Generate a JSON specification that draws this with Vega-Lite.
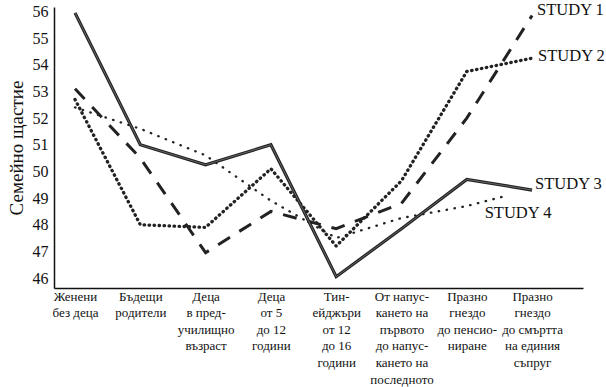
{
  "$schema": "https://vega.github.io/schema/vega-lite/v6.json",
  "width": 529,
  "height": 281,
  "autosize": "none",
  "padding": {"left": 54, "top": 7, "right": 23, "bottom": 99},
  "background": "white",
  "config": {
    "view": {"stroke": null},
    "font": "Liberation Serif",
    "axis": {
      "domainColor": "#111",
      "domainWidth": 1.5,
      "ticks": false,
      "grid": false,
      "labelColor": "#111",
      "labelFont": "Liberation Serif",
      "titleFont": "Liberation Serif",
      "titleColor": "#111",
      "titleFontWeight": "normal"
    }
  },
  "data": {
    "values": [
      {"study": "Study 1", "stage": 1, "value": 53.1},
      {"study": "Study 1", "stage": 2, "value": 50.5},
      {"study": "Study 1", "stage": 3, "value": 46.95},
      {"study": "Study 1", "stage": 4, "value": 48.5},
      {"study": "Study 1", "stage": 5, "value": 47.85},
      {"study": "Study 1", "stage": 6, "value": 48.8},
      {"study": "Study 1", "stage": 7, "value": 52.0},
      {"study": "Study 1", "stage": 8, "value": 55.85},
      {"study": "Study 2", "stage": 1, "value": 52.7},
      {"study": "Study 2", "stage": 2, "value": 48.0},
      {"study": "Study 2", "stage": 3, "value": 47.9},
      {"study": "Study 2", "stage": 4, "value": 50.1},
      {"study": "Study 2", "stage": 5, "value": 47.2},
      {"study": "Study 2", "stage": 6, "value": 49.65},
      {"study": "Study 2", "stage": 7, "value": 53.75},
      {"study": "Study 2", "stage": 8, "value": 54.25},
      {"study": "Study 3", "stage": 1, "value": 55.95},
      {"study": "Study 3", "stage": 2, "value": 51.0},
      {"study": "Study 3", "stage": 3, "value": 50.25},
      {"study": "Study 3", "stage": 4, "value": 51.0},
      {"study": "Study 3", "stage": 5, "value": 46.05},
      {"study": "Study 3", "stage": 6, "value": 47.85},
      {"study": "Study 3", "stage": 7, "value": 49.7},
      {"study": "Study 3", "stage": 8, "value": 49.3},
      {"study": "Study 4", "stage": 1, "value": 52.4},
      {"study": "Study 4", "stage": 2, "value": 51.6},
      {"study": "Study 4", "stage": 3, "value": 50.6},
      {"study": "Study 4", "stage": 4, "value": 48.9},
      {"study": "Study 4", "stage": 5, "value": 47.5},
      {"study": "Study 4", "stage": 6, "value": 48.25},
      {"study": "Study 4", "stage": 7, "value": 48.7},
      {"study": "Study 4", "stage": 7.55, "value": 49.05}
    ]
  },
  "encoding": {
    "x": {
      "field": "stage",
      "type": "quantitative",
      "scale": {"domain": [0.678, 8.78], "nice": false, "zero": false},
      "axis": {
        "title": null,
        "values": [1, 2, 3, 4, 5, 6, 7, 8],
        "labelExpr": "split(['Женени|без деца', 'Бъдещи|родители', 'Деца|в пред-|училищно|възраст', 'Деца|от 5|до 12|години', 'Тин-|ейджъри|от 12|до 16|години', 'От напус-|кането на|първото|до напус-|кането на|последното', 'Празно|гнездо|до пенсио-|ниране', 'Празно|гнездо|до смъртта|на единия|съпруг'][datum.value - 1], '|')",
        "labelFontSize": 13,
        "labelLineHeight": 16.6,
        "labelPadding": 2,
        "labelOverlap": false,
        "labelBound": false,
        "labelFlush": false,
        "labelAlign": "center"
      }
    },
    "y": {
      "field": "value",
      "type": "quantitative",
      "scale": {"domain": [45.625, 56.17], "nice": false, "zero": false},
      "axis": {
        "title": "Семейно щастие",
        "values": [46, 47, 48, 49, 50, 51, 52, 53, 54, 55, 56],
        "labelFontSize": 16,
        "labelPadding": 6,
        "titleFontSize": 19,
        "titlePadding": 6
      }
    }
  },
  "layer": [
    {
      "transform": [{"filter": "datum.study == 'Study 4'"}],
      "mark": {"type": "line", "color": "#222", "strokeWidth": 2.3, "strokeCap": "round", "strokeDash": [0.5, 7.5]}
    },
    {
      "transform": [{"filter": "datum.study == 'Study 2'"}],
      "mark": {"type": "line", "color": "#222", "strokeWidth": 3.3, "strokeCap": "round", "strokeDash": [0.5, 4.5]}
    },
    {
      "transform": [{"filter": "datum.study == 'Study 1'"}],
      "mark": {"type": "line", "color": "#222", "strokeWidth": 3, "strokeCap": "butt", "strokeDash": [14, 11]}
    },
    {
      "transform": [{"filter": "datum.study == 'Study 3'"}],
      "mark": {"type": "line", "color": "#222", "strokeWidth": 3.2}
    },
    {
      "transform": [{"filter": "datum.study == 'Study 3'"}],
      "mark": {"type": "line", "color": "#666", "strokeWidth": 1}
    },
    {
      "transform": [{"filter": "datum.study == 'Study 1' && datum.stage == 8"}],
      "mark": {"type": "text", "text": "STUDY 1", "align": "left", "baseline": "middle", "dx": 5, "dy": -6, "fontSize": 16.5, "color": "#111"}
    },
    {
      "transform": [{"filter": "datum.study == 'Study 2' && datum.stage == 8"}],
      "mark": {"type": "text", "text": "STUDY 2", "align": "left", "baseline": "middle", "dx": 6, "dy": -2, "fontSize": 16.5, "color": "#111"}
    },
    {
      "transform": [{"filter": "datum.study == 'Study 3' && datum.stage == 8"}],
      "mark": {"type": "text", "text": "STUDY 3", "align": "left", "baseline": "middle", "dx": 3, "dy": -6, "fontSize": 16.5, "color": "#111"}
    },
    {
      "transform": [{"filter": "datum.study == 'Study 4' && datum.stage == 7.55"}],
      "mark": {"type": "text", "text": "STUDY 4", "align": "left", "baseline": "middle", "dx": -18, "dy": 16, "fontSize": 16.5, "color": "#111"}
    }
  ]
}
